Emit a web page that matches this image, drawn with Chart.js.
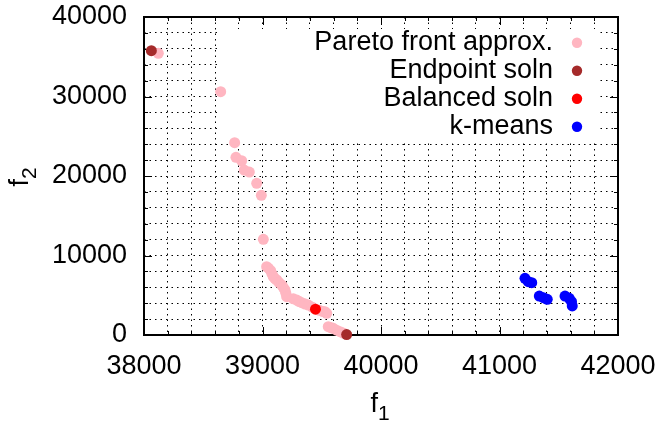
<!DOCTYPE html>
<html>
<head>
<meta charset="utf-8">
<script src="https://cdn.jsdelivr.net/npm/chart.js@4.4.0/dist/chart.umd.min.js"></script>
<style>
    html, body { margin: 0; padding: 0; background: #fff; }
</style>
</head>
<body>
<canvas id="chart" width="662" height="424"></canvas>
<script>
// Values
const paretoF1 = [38121, 38647, 38765, 38776, 38824, 38846, 38889, 38951, 38990, 39007,
    39035, 39050, 39069, 39080, 39091, 39105, 39120, 39140, 39162, 39175, 39190, 39197, 39204,
    39260, 39289, 39310, 39331, 39360, 39387, 39420, 39480, 39510, 39527, 39542,
    39555, 39580, 39597, 39625, 39654, 39680];
const paretoF2 = [35430, 30600, 24190, 22350, 21920, 20750, 20500, 19080, 17570, 12040,
    8590, 8400, 8090, 7700, 7330, 7100, 6920, 6600, 6290, 6000, 5660, 5250, 4820,
    4550, 4400, 4200, 4060, 3900, 3770, 3500, 3100, 2950, 2930, 2730,
    1040, 900, 840, 600, 420, 250];

const endpointF1 = [38062, 39710];
const endpointF2 = [35760, 50];

const balancedF1 = [39447];
const balancedF2 = [3250];

const kmeansF1 = [41215, 41243, 41272, 41336, 41370, 41403, 41553, 41589, 41608, 41614];
const kmeansF2 = [7130, 6710, 6580, 4900, 4690, 4490, 4900, 4610, 4190, 3650];

const xRange = [38000, 42000];
const yRange = [0, 40000];

const FONT = "'Liberation Sans', Arial, sans-serif";

function toPoints(xs, ys) {
    return xs.map((x, i) => ({ x: x, y: ys[i] }));
}

// keep the frame where the layout padding puts it (no extra room for edge labels)
function noEdgePadding(scale) {
    scale.paddingTop = 0;
    scale.paddingBottom = 0;
    scale.paddingLeft = 0;
    scale.paddingRight = 0;
}

// gnuplot-ish frame: opaque key box, border, inward ticks, key, axis titles
const framePlugin = {
    id: 'frame',
    beforeDatasetsDraw(chart) {
        const ctx = chart.ctx;
        const a = chart.chartArea;
        const xs = chart.scales.x, ys = chart.scales.y;
        ctx.save();
        // opaque key box
        ctx.fillStyle = '#fff';
        ctx.fillRect(219, 29, 381, 112);

        // inward ticks on all four sides
        ctx.strokeStyle = '#000';
        ctx.lineWidth = 1;
        ctx.beginPath();
        xs.ticks.forEach(t => {
            const px = Math.round(xs.getPixelForValue(t.value)) + 0.5;
            const len = t.value % 1000 === 0 ? 8 : 4;
            ctx.moveTo(px, a.bottom); ctx.lineTo(px, a.bottom - len);
            ctx.moveTo(px, a.top); ctx.lineTo(px, a.top + len);
        });
        ys.ticks.forEach(t => {
            const py = Math.round(ys.getPixelForValue(t.value)) + 0.5;
            const len = t.value % 10000 === 0 ? 8 : 4;
            ctx.moveTo(a.left, py); ctx.lineTo(a.left + len, py);
            ctx.moveTo(a.right, py); ctx.lineTo(a.right - len, py);
        });
        ctx.stroke();

        // border
        ctx.lineWidth = 2;
        ctx.strokeRect(a.left, a.top, a.right - a.left, a.bottom - a.top);
        ctx.restore();
    },
    afterDatasetsDraw(chart) {
        const ctx = chart.ctx;
        const a = chart.chartArea;
        ctx.save();

        // key
        ctx.font = '27px ' + FONT;
        ctx.textAlign = 'right';
        ctx.textBaseline = 'middle';
        const rows = [0, 1, 2, 3].map(i => chart.data.datasets.find(d => d.keyIndex === i));
        rows.forEach((ds, i) => {
            const y = 42.7 + i * 28;
            ctx.fillStyle = '#000';
            ctx.fillText(ds.label, 553, y);
            ctx.fillStyle = ds.backgroundColor;
            ctx.beginPath();
            ctx.arc(577, y, 5.2, 0, Math.PI * 2);
            ctx.fill();
        });

        // axis titles with subscripts
        ctx.fillStyle = '#000';
        ctx.textAlign = 'left';
        ctx.textBaseline = 'alphabetic';
        function title(main, sub, cx) {
            ctx.font = '27px ' + FONT;
            const w1 = ctx.measureText(main).width;
            ctx.font = '21px ' + FONT;
            const w2 = ctx.measureText(sub).width;
            const start = cx - (w1 + w2) / 2;
            ctx.font = '27px ' + FONT;
            ctx.fillText(main, start, 0);
            ctx.font = '21px ' + FONT;
            ctx.fillText(sub, start + w1, 8);
        }
        ctx.save();
        ctx.translate(0, 411.5);
        title('f', '1', (a.left + a.right) / 2 - 1);
        ctx.restore();

        ctx.save();
        ctx.translate(28, 177);
        ctx.rotate(-Math.PI / 2);
        title('f', '2', 0);
        ctx.restore();

        ctx.restore();
    }
};

const ctx = document.getElementById('chart').getContext('2d');

new Chart(ctx, {
    type: 'scatter',
    data: {
        datasets: [{
            label: 'Pareto front approx.',
            keyIndex: 0,
            data: toPoints(paretoF1, paretoF2),
            backgroundColor: '#ffb6c1',
            order: 4
        }, {
            label: 'Endpoint soln',
            keyIndex: 1,
            data: toPoints(endpointF1, endpointF2),
            backgroundColor: '#a52a2a',
            order: 3
        }, {
            label: 'Balanced soln',
            keyIndex: 2,
            data: toPoints(balancedF1, balancedF2),
            backgroundColor: '#ff0000',
            order: 2
        }, {
            label: 'k-means',
            keyIndex: 3,
            data: toPoints(kmeansF1, kmeansF2),
            backgroundColor: '#0000ff',
            order: 1
        }]
    },
    options: {
        responsive: false,
        animation: false,
        layout: { padding: { left: 0, right: 44, top: 17, bottom: 0 } },
        elements: {
            point: { radius: 5.5, borderWidth: 0, hoverRadius: 5.5 }
        },
        datasets: { scatter: { clip: false } },
        scales: {
            x: {
                type: 'linear',
                min: xRange[0],
                max: xRange[1],
                afterFit: scale => { scale.height = 89; noEdgePadding(scale); },
                grid: { color: '#000', lineWidth: 1, drawTicks: false },
                border: { display: false, dash: [1.5, 4] },
                ticks: {
                    stepSize: 200,
                    autoSkip: false,
                    maxRotation: 0,
                    padding: 15,
                    color: '#000',
                    font: { family: FONT, size: 27 },
                    callback: v => (v % 1000 === 0 ? String(v) : '')
                }
            },
            y: {
                type: 'linear',
                min: yRange[0],
                max: yRange[1],
                afterFit: scale => { scale.width = 144; noEdgePadding(scale); },
                grid: { color: '#000', lineWidth: 1, drawTicks: false },
                border: { display: false, dash: [1.5, 4] },
                ticks: {
                    stepSize: 2000,
                    autoSkip: false,
                    padding: 17,
                    color: '#000',
                    font: { family: FONT, size: 27 },
                    callback: v => (v % 10000 === 0 ? String(v) : '')
                }
            }
        },
        plugins: {
            legend: { display: false },
            tooltip: { enabled: false }
        }
    },
    plugins: [framePlugin]
});
</script>
</body>
</html>
